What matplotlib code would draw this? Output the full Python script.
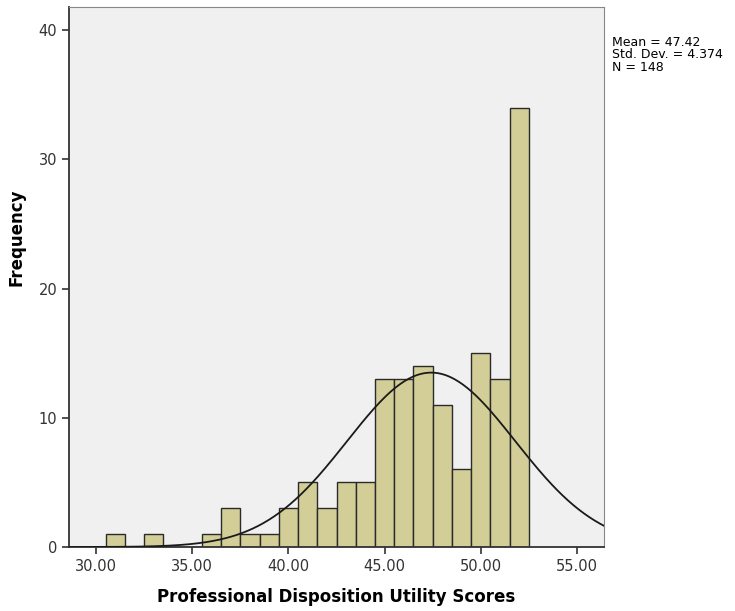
import numpy as np
import matplotlib.pyplot as plt

# histogram bins (centre of each 1-point bin) and counts
bin_centers = [31, 32, 33, 34, 35, 36, 37, 38, 39, 40, 41, 42, 43, 44, 45, 46, 47, 48, 49, 50, 51, 52]
counts = [1, 0, 1, 0, 0, 1, 3, 1, 1, 3, 5, 3, 5, 5, 13, 13, 14, 11, 6, 15, 13, 34]
mean = 47.42
std = 4.374
n = 148
x_ticks = [30, 35, 40, 45, 50, 55]
y_ticks = [0, 10, 20, 30, 40]

fig = plt.figure(figsize=(7.35, 6.11), dpi=100)
ax = fig.add_axes([69 / 735, 64 / 611, 535 / 735, 540 / 611])
ax.set_facecolor('#f0f0f0')

ax.bar(bin_centers, counts, width=1.0, color='#d3ce98', edgecolor='#2a2a2a', linewidth=1.0, zorder=2)

xs = np.linspace(28.6, 56.4, 400)
curve = n * 1.0 / (std * np.sqrt(2 * np.pi)) * np.exp(-0.5 * ((xs - mean) / std) ** 2)
ax.plot(xs, curve, color='#1a1a1a', linewidth=1.3, zorder=3)

ax.set_xlim(28.6, 56.4)
ax.set_ylim(0, 41.8)
ax.set_xticks(x_ticks)
ax.set_xticklabels(['%.2f' % t for t in x_ticks])
ax.set_yticks(y_ticks)
ax.tick_params(axis='both', labelsize=10.5, colors='#333333', length=5, width=1.2, direction='out')

for side in ['left', 'bottom']:
    ax.spines[side].set_linewidth(1.3)
    ax.spines[side].set_color('#333333')
for side in ['top', 'right']:
    ax.spines[side].set_linewidth(0.8)
    ax.spines[side].set_color('#888888')

ax.set_xlabel('Professional Disposition Utility Scores', fontsize=12, fontweight='bold', labelpad=10)
ax.set_ylabel('Frequency', fontsize=12, fontweight='bold', labelpad=9)
ax.yaxis.label.set_y(0.574)

fig.text(612 / 735, 1 - 36 / 611, 'Mean = 47.42\nStd. Dev. = 4.374\nN = 148',
         fontsize=9, va='top', ha='left', linespacing=0.95)

plt.savefig('out.png', dpi=100)
